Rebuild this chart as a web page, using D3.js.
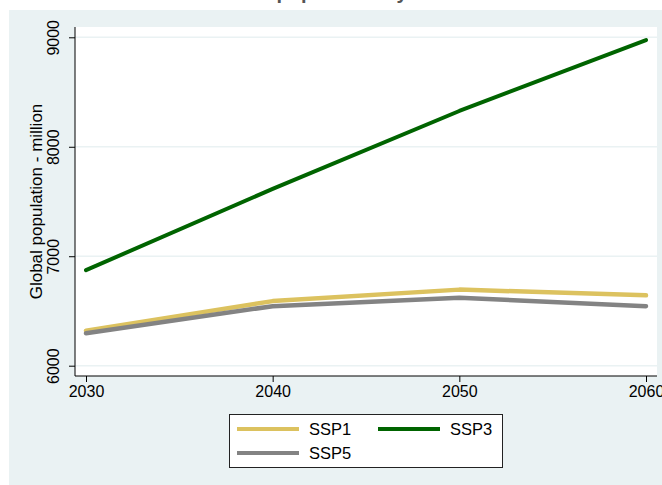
<!DOCTYPE html>
<html>
<head>
<meta charset="utf-8">
<script src="https://cdn.jsdelivr.net/npm/d3@7"></script>
<style>
  body { margin: 0; background: #fff; }
  svg { display: block; font-family: Arial, "Liberation Sans", sans-serif; }
</style>
</head>
<body>
<div id="chart"></div>
<script>
// data
const years = [2030, 2040, 2050, 2060];
const ssp1 = [6320, 6590, 6695, 6643];
const ssp3 = [6873, 7615, 8327, 8975];
const ssp5 = [6296, 6544, 6620, 6544];
const yTicks = [6000, 7000, 8000, 9000];

const series = [
  {name: "SSP1", values: ssp1, color: "#dcc25f", width: 4.5},
  {name: "SSP3", values: ssp3, color: "#006400", width: 4},
  {name: "SSP5", values: ssp5, color: "#838383", width: 4.5}
];

const width = 662, height = 485;
const plot = {left: 75, right: 657, top: 27, bottom: 376};
const fontSize = 16;

const svg = d3.select("#chart").append("svg")
    .attr("width", width)
    .attr("height", height);

// outer panel
svg.append("rect")
    .attr("x", 9).attr("y", 10)
    .attr("width", width).attr("height", height)
    .attr("fill", "#eaf2f3");

// title, cut off at the top like in the source image
svg.append("text")
    .attr("x", 331).attr("y", -1)
    .attr("text-anchor", "middle")
    .attr("font-size", 20)
    .attr("font-weight", "bold")
    .attr("fill", "#555")
    .text("Global population by SSP");

// plot area
svg.append("rect")
    .attr("x", plot.left).attr("y", plot.top)
    .attr("width", plot.right - plot.left)
    .attr("height", plot.bottom - plot.top)
    .attr("fill", "#fff");

const x = d3.scaleLinear().domain([2030, 2060]).range([86, 646]);
const y = d3.scaleLinear().domain([6000, 9000]).range([365.7, 37.3]);

// gridlines
svg.append("g")
  .selectAll("line")
  .data(yTicks)
  .join("line")
    .attr("x1", plot.left).attr("x2", plot.right)
    .attr("y1", d => y(d)).attr("y2", d => y(d))
    .attr("stroke", "#eaf2f3")
    .attr("stroke-width", 1.5);

// y axis
const yAxis = svg.append("g")
    .attr("transform", `translate(${plot.left},0)`)
    .call(d3.axisLeft(y).tickValues(yTicks).tickSize(6).tickFormat(d3.format("d")));
yAxis.select(".domain").attr("d", `M0,${plot.top}V${plot.bottom}`).attr("stroke", "#000");
yAxis.selectAll(".tick line").attr("stroke", "#000");
yAxis.selectAll(".tick text")
    .attr("font-size", fontSize)
    .attr("fill", "#000")
    .attr("font-family", "Arial, 'Liberation Sans', sans-serif")
    .attr("text-anchor", "middle")
    .attr("dy", null)
    .attr("x", null)
    .attr("transform", "translate(-22,0) rotate(-90)")
    .attr("dominant-baseline", "central");

// x axis
const xAxis = svg.append("g")
    .attr("transform", `translate(0,${plot.bottom})`)
    .call(d3.axisBottom(x).tickValues(years).tickSize(6).tickFormat(d3.format("d")));
xAxis.select(".domain").attr("d", `M${plot.left},0H${plot.right}`).attr("stroke", "#000");
xAxis.selectAll(".tick line").attr("stroke", "#000");
xAxis.selectAll(".tick text")
    .attr("font-size", fontSize)
    .attr("fill", "#000")
    .attr("font-family", "Arial, 'Liberation Sans', sans-serif")
    .attr("y", 10);

// y axis title
svg.append("text")
    .attr("transform", `translate(36,${(plot.top + plot.bottom) / 2}) rotate(-90)`)
    .attr("text-anchor", "middle")
    .attr("dominant-baseline", "central")
    .attr("font-size", 17)
    .text("Global population - million");

// lines
const line = d3.line()
    .x((d, i) => x(years[i]))
    .y(d => y(d));

svg.append("g")
    .attr("fill", "none")
    .attr("stroke-linejoin", "round")
    .attr("stroke-linecap", "round")
  .selectAll("path")
  .data(series)
  .join("path")
    .attr("stroke", d => d.color)
    .attr("stroke-width", d => d.width)
    .attr("d", d => line(d.values));

// legend
const legend = svg.append("g");
legend.append("rect")
    .attr("x", 229.5).attr("y", 414.5)
    .attr("width", 273).attr("height", 53)
    .attr("fill", "#fff")
    .attr("stroke", "#222");

const legendPos = [
  {x: 237, y: 429},
  {x: 378, y: 429},
  {x: 237, y: 453}
];

series.forEach((s, i) => {
  const p = legendPos[i];
  legend.append("line")
      .attr("x1", p.x).attr("x2", p.x + 62)
      .attr("y1", p.y).attr("y2", p.y)
      .attr("stroke", s.color)
      .attr("stroke-width", 4);
  legend.append("text")
      .attr("x", p.x + 72).attr("y", p.y)
      .attr("dominant-baseline", "central")
      .attr("font-size", 16.5)
      .text(s.name);
});
</script>
</body>
</html>
